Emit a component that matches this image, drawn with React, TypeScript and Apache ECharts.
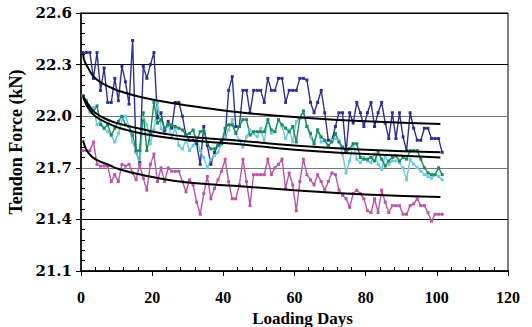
import React, { useEffect, useRef } from "react";
import * as echarts from "echarts";

const Y_BASE = 21.1;
const Y_TICKS = ["21.1", "21.4", "21.7", "22.0", "22.3", "22.6"];
const X_TICKS = [0, 20, 40, 60, 80, 100, 120];

const BLUE = [
  22.37, 22.37, 22.37, 22.22, 22.37, 22.15, 22.28, 22.08, 22.08, 22.22,
  22.09, 22.29, 22.2, 22.07, 22.44, 21.79, 21.73, 22.29, 22.22, 22.3,
  22.37, 21.99, 22.02, 21.91, 21.97, 21.93, 22.08, 22.08, 22.0, 21.89,
  21.86, 21.86, 21.84, 21.72, 21.94, 21.83, 21.72, 21.79, 21.83, 21.86,
  21.88, 22.15, 22.23, 21.94, 21.94, 22.15, 22.15, 22.02, 22.15, 22.15,
  22.15, 22.08, 22.22, 22.15, 22.15, 22.22, 22.22, 22.08, 22.15, 22.15,
  22.15, 22.22, 22.22, 22.21, 22.08, 22.02, 22.08, 22.15, 22.02, 21.86,
  21.86, 21.94, 22.02, 22.02, 21.79, 22.02, 21.96, 22.08, 22.02, 21.94,
  22.02, 22.08, 21.94, 22.02, 22.08, 21.96, 21.87, 22.02, 21.87, 22.02,
  21.88, 21.8, 22.02, 21.93, 21.86, 21.86, 21.93, 21.93, 21.87, 21.87,
  21.87, 21.79,
];

const GREEN = [
  22.12, 22.09, 22.05, 22.03, 22.06, 21.95, 21.93, 21.95, 21.89, 21.93,
  21.97, 22.0, 21.95, 21.94, 21.89, 21.8, 21.8, 22.02, 21.8, 21.9,
  22.08, 21.96, 21.98, 21.93, 21.95, 21.95, 21.94, 21.93, 21.92, 21.89,
  21.9, 21.92, 21.86, 21.91, 21.92, 21.84, 21.81, 21.81, 21.83, 21.84,
  21.93, 21.95, 21.95, 21.9, 21.94, 21.98, 21.98, 21.89, 21.91, 21.91,
  21.91, 21.91, 21.98, 21.92, 21.91, 21.98, 21.95, 21.93, 21.91, 21.94,
  21.85, 21.99, 22.03, 21.94, 21.9, 21.84, 21.92, 21.88, 21.86, 21.83,
  21.85, 21.9, 21.85, 21.82, 21.79, 21.81, 21.84, 21.84, 21.76, 21.75,
  21.75, 21.76, 21.74, 21.79, 21.75, 21.71, 21.74, 21.76, 21.77, 21.74,
  21.76, 21.75, 21.8, 21.8, 21.8, 21.75, 21.7, 21.67, 21.66, 21.66,
  21.7, 21.66,
];

const CYAN = [
  22.12, 22.08, 22.02, 22.05, 21.95, 21.97, 21.93, 21.91, 21.89, 21.85,
  21.9, 21.98, 22.0, 21.94, 21.85, 21.79, 21.72, 21.99, 21.95, 21.84,
  21.92, 22.08, 21.93, 21.9, 21.95, 21.88, 21.93, 21.83, 21.81, 21.86,
  21.8, 21.83, 21.86, 21.8, 21.76, 21.7, 21.75, 21.77, 21.79, 21.84,
  21.88, 21.92, 21.98, 21.9, 21.86, 21.82, 21.88, 21.92, 21.9, 21.88,
  21.93, 21.85, 21.98, 21.9, 21.91, 21.98, 21.94, 21.87, 21.92, 21.85,
  21.97, 21.99, 22.03, 21.94, 21.88, 21.84, 21.92, 21.85, 21.86, 21.82,
  21.86, 21.87, 21.86, 21.78, 21.67, 21.74, 21.84, 21.75, 21.73, 21.76,
  21.74, 21.73, 21.78, 21.72, 21.69, 21.77, 21.72, 21.74, 21.74, 21.73,
  21.7, 21.63, 21.75, 21.72, 21.7, 21.68, 21.66, 21.65, 21.64, 21.66,
  21.65, 21.63,
];

const MAGENTA = [
  21.8, 21.8, 21.8, 21.85, 21.72, 21.71, 21.71, 21.71, 21.62, 21.66,
  21.62, 21.72, 21.71, 21.72, 21.67, 21.63, 21.72, 21.64, 21.57, 21.72,
  21.78, 21.62, 21.7, 21.62, 21.7, 21.68, 21.68, 21.68, 21.62, 21.56,
  21.63, 21.6, 21.5, 21.43, 21.55, 21.65, 21.52, 21.58, 21.63, 21.68,
  21.75, 21.62, 21.52, 21.52, 21.6, 21.75, 21.62, 21.48, 21.66, 21.66,
  21.66, 21.66, 21.75, 21.66, 21.7, 21.72, 21.75, 21.58, 21.67, 21.6,
  21.45, 21.62, 21.75, 21.66, 21.63, 21.6, 21.66, 21.62, 21.57, 21.62,
  21.67, 21.66, 21.57, 21.54, 21.52, 21.47, 21.55, 21.57, 21.55, 21.52,
  21.45, 21.44, 21.52, 21.44, 21.57, 21.5, 21.44, 21.48, 21.48, 21.48,
  21.43, 21.43, 21.48, 21.49, 21.52, 21.48, 21.48, 21.44, 21.39, 21.43,
  21.43, 21.43,
];

const FIT_DAYS = [0.6, 1, 2, 4, 8, 11, 17, 26, 36, 43, 60, 80, 101];
const FIT_BLUE = [22.36, 22.32, 22.28, 22.22, 22.17, 22.145, 22.11, 22.075, 22.045, 22.026, 21.995, 21.97, 21.955];
const FIT_GREEN = [22.12, 22.1, 22.07, 22.02, 21.975, 21.955, 21.925, 21.89, 21.87, 21.86, 21.83, 21.805, 21.79];
const FIT_CYAN = [22.11, 22.09, 22.05, 22.0, 21.955, 21.93, 21.9, 21.87, 21.85, 21.84, 21.805, 21.78, 21.76];
const FIT_MAGENTA = [21.86, 21.83, 21.79, 21.75, 21.715, 21.69, 21.66, 21.625, 21.605, 21.595, 21.57, 21.545, 21.53];

const FONT = "'Liberation Serif', 'Times New Roman', serif";
const WIDE_FONT = "'DejaVu Serif', 'Liberation Serif', serif";

function toPoints(values: number[]) {
  return values.map((v, i) => [i + 0.5, +(v - Y_BASE).toFixed(4)]);
}
function toFit(values: number[]) {
  return values.map((v, i) => [FIT_DAYS[i], +(v - Y_BASE).toFixed(4)]);
}

function dataSeries(name: string, values: number[], color: string) {
  return {
    name,
    type: "line",
    data: toPoints(values),
    symbol: "rect",
    symbolSize: 3,
    showSymbol: true,
    itemStyle: { color },
    lineStyle: { color, width: 1.4 },
    z: 2,
  };
}
function fitSeries(name: string, values: number[]) {
  return {
    name,
    type: "line",
    data: toFit(values),
    smooth: true,
    symbol: "none",
    lineStyle: { color: "#000", width: 2 },
    z: 3,
  };
}

const labelStyle = { fontFamily: FONT, fontWeight: "bold", fontSize: 16, color: "#000" };

export default function App() {
  const ref = useRef<HTMLDivElement>(null);
  useEffect(() => {
    if (!ref.current) return;
    const chart = echarts.init(ref.current, null, { renderer: "svg" });
    chart.setOption({
      animation: false,
      backgroundColor: "#fff",
      grid: {
        left: 81,
        right: 24,
        top: 13,
        bottom: 56,
        containLabel: false,
        outerBoundsMode: "none",
        show: true,
        borderColor: "#000",
        borderWidth: 1,
        backgroundColor: "transparent",
      },
      xAxis: {
        type: "value",
        min: X_TICKS[0],
        max: X_TICKS[X_TICKS.length - 1],
        interval: 20,
        name: "Loading Days",
        nameLocation: "middle",
        nameGap: 35,
        nameTextStyle: { ...labelStyle, fontSize: 17, padding: [0, 0, 0, 16] },
        axisLine: { show: true, onZero: false, lineStyle: { color: "#000", width: 1.5 } },
        axisTick: { show: true, inside: false, length: 5, lineStyle: { color: "#000" } },
        minorTick: { show: true, splitNumber: 5, length: -4, lineStyle: { color: "#000" } },
        axisLabel: { ...labelStyle, margin: 18 },
        splitLine: { show: false },
      },
      yAxis: {
        type: "value",
        min: 0,
        max: 1.5,
        interval: 0.3,
        name: "Tendon Force (kN)",
        nameLocation: "middle",
        nameGap: 55,
        nameTextStyle: { ...labelStyle, fontSize: 18 },
        axisLine: { show: true, onZero: false, lineStyle: { color: "#000", width: 1.5 } },
        axisTick: { show: true, inside: false, length: 5, lineStyle: { color: "#000" } },
        minorTick: { show: true, splitNumber: 5, length: -4, lineStyle: { color: "#000" } },
        axisLabel: {
          ...labelStyle,
          fontFamily: WIDE_FONT,
          fontSize: 15,
          margin: 9,
          formatter: (v: number) => Y_TICKS[Math.round(v / 0.3)] ?? "",
        },
        splitLine: {
          show: true,
          lineStyle: { color: ["#000", "#000", "#777", "#777", "#000", "#000"], width: 1 },
        },
      },
      series: [
        dataSeries("S1", BLUE, "#2E3192"),
        dataSeries("S2", CYAN, "#66CCDD"),
        dataSeries("S3", GREEN, "#1B8A5A"),
        dataSeries("S4", MAGENTA, "#BB55AA"),
        fitSeries("F1", FIT_BLUE),
        fitSeries("F2", FIT_GREEN),
        fitSeries("F3", FIT_CYAN),
        fitSeries("F4", FIT_MAGENTA),
      ],
    });
    return () => chart.dispose();
  }, []);
  return (
    <div
      ref={ref}
      style={{ position: "absolute", left: 0, top: 0, width: 532, height: 327 }}
    />
  );
}
